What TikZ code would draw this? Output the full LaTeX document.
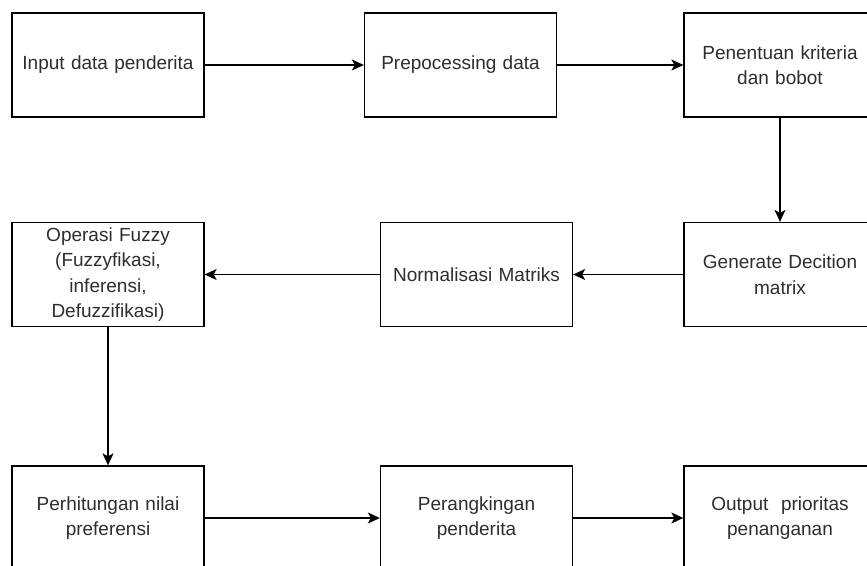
\documentclass[tikz,border=0pt]{standalone}
\usepackage{fontspec}
\setmainfont{Liberation Sans}
\usetikzlibrary{arrows.meta}

\definecolor{teks}{RGB}{45,45,45}

\begin{document}
\begin{tikzpicture}[x=1pt, y=-1pt,
    box/.style = {draw, line width=1.3pt, minimum width=192pt, minimum height=104pt,
                  inner sep=0pt, text width=184pt, align=center, text=teks,
                  font=\fontsize{19}{25.5}\selectfont},
    panah/.style = {line width=1.3pt, -{Stealth[length=12pt, width=11pt, inset=3pt]}}]
        \useasboundingbox (0,0) rectangle (867,565);
        \clip (0,0) rectangle (867,565);

        % baris pertama
        \node[box] (input) at (108,65) {Input data penderita};
        \node[box] (prepro) at (460.5,65) {Prepocessing data};
        \node[box] (kriteria) at (780,65) {Penentuan kriteria\\dan bobot};

        % baris kedua
        \node[box] (fuzzy) at (108,274.5) {Operasi Fuzzy\\(Fuzzyfikasi,\\inferensi,\\Defuzzifikasi)};
        \node[box] (normal) at (476.5,274.5) {Normalisasi Matriks};
        \node[box] (decision) at (780,274.5) {Generate Decition\\matrix};

        % baris ketiga
        \node[box] (preferensi) at (108,518) {Perhitungan nilai\\preferensi};
        \node[box] (ranking) at (476.5,518) {Perangkingan\\penderita};
        \node[box] (output) at (780,518) {Output\ \ prioritas\\penanganan};

        \draw[panah] (input) -- (prepro);
        \draw[panah] (prepro) -- (kriteria);
        \draw[panah] (kriteria) -- (decision);
        \draw[panah] (decision) -- (normal);
        \draw[panah] (normal) -- (fuzzy);
        \draw[panah] (fuzzy) -- (preferensi);
        \draw[panah] (preferensi) -- (ranking);
        \draw[panah] (ranking) -- (output);

    \end{tikzpicture}
\end{document}
